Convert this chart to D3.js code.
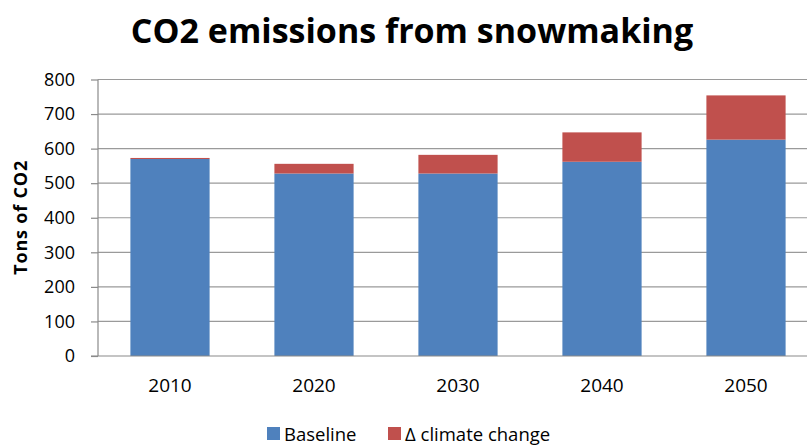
<!DOCTYPE html>
<html>
<head>
<meta charset="utf-8">
<script src="https://cdn.jsdelivr.net/npm/d3@7"></script>
<style>
  html, body { margin: 0; padding: 0; background: #fff; }
  svg { display: block; font-family: "Open Sans", "Noto Sans", sans-serif; }
</style>
</head>
<body>
<svg id="chart" width="807" height="446"></svg>
<script>
// Snowmaking CO2 emissions, tons per year
const years = ["2010", "2020", "2030", "2040", "2050"];
const baseline = [570, 528, 528, 562, 626];
const climateDelta = [3, 28, 54, 85, 128];
const yTicks = [0, 100, 200, 300, 400, 500, 600, 700, 800];
const seriesNames = ["Baseline", "\u0394 climate change"];
const seriesColors = ["#4F81BD", "#C0504D"];

const svg = d3.select("#chart");
const plotLeft = 98, plotTop = 79.5, plotBottom = 356;
const bandStep = 144;

const x = d3.scaleBand()
  .domain(years)
  .range([plotLeft, plotLeft + bandStep * years.length])
  .paddingInner(0.45)
  .paddingOuter(0.225);

const y = d3.scaleLinear().domain([0, 800]).range([plotBottom, plotTop]);

// horizontal gridlines
svg.append("g")
  .selectAll("line")
  .data(yTicks.filter(d => d > 0))
  .join("line")
  .attr("x1", plotLeft).attr("x2", 807)
  .attr("y1", d => y(d)).attr("y2", d => y(d))
  .attr("stroke", "#9a9a9a").attr("stroke-width", 1.2);

// stacked bars
const rows = years.map((yr, i) => ({ year: yr, base: baseline[i], delta: climateDelta[i] }));
const stack = d3.stack().keys(["base", "delta"])(rows);

svg.append("g")
  .selectAll("g")
  .data(stack)
  .join("g")
  .attr("fill", (d, i) => seriesColors[i])
  .selectAll("rect")
  .data(d => d)
  .join("rect")
  .attr("x", d => x(d.data.year))
  .attr("width", x.bandwidth())
  .attr("y", d => y(d[1]))
  .attr("height", d => y(d[0]) - y(d[1]));

// y axis
const yAxis = d3.axisLeft(y).tickValues(yTicks).tickSize(7).tickPadding(16);
const gy = svg.append("g").attr("transform", `translate(${plotLeft},0)`).call(yAxis);
gy.select(".domain").attr("stroke", "#8a8a8a").attr("stroke-width", 1.2).attr("d", `M0,${plotBottom}V${plotTop}`);
gy.selectAll(".tick line").attr("stroke", "#8a8a8a").attr("stroke-width", 1.2);
gy.selectAll(".tick text").attr("font-size", 18).attr("fill", "#000")
  .attr("font-family", "'Open Sans', sans-serif");

// x axis baseline
const xAxis = d3.axisBottom(x).tickSize(0).tickPadding(22.5);
const gx = svg.append("g").attr("transform", `translate(0,${plotBottom})`).call(xAxis);
gx.select(".domain").attr("stroke", "#8a8a8a").attr("stroke-width", 1.2).attr("d", `M${plotLeft - 7},0H807`);
gx.selectAll(".tick text").attr("font-size", 19).attr("fill", "#000")
  .attr("font-family", "'Open Sans', sans-serif");

// title
svg.append("text")
  .attr("x", 412).attr("y", 43)
  .attr("text-anchor", "middle")
  .attr("font-size", 34).attr("font-weight", "bold")
  .text("CO2 emissions from snowmaking");

// y-axis title
svg.append("text")
  .attr("transform", `translate(27,${(plotTop + plotBottom) / 2}) rotate(-90)`)
  .attr("text-anchor", "middle")
  .attr("font-size", 18).attr("font-weight", "bold")
  .attr("textLength", 114).attr("lengthAdjust", "spacing")
  .text("Tons of CO2");

// legend
const legendPos = [267, 388];
const lg = svg.append("g").selectAll("g").data(seriesNames).join("g")
  .attr("transform", (d, i) => `translate(${legendPos[i]},427)`);
lg.append("rect").attr("width", 13).attr("height", 13).attr("fill", (d, i) => seriesColors[i]);
lg.append("text").attr("x", 17).attr("y", 13.5).attr("font-size", 18.5).text(d => d);
</script>
</body>
</html>
